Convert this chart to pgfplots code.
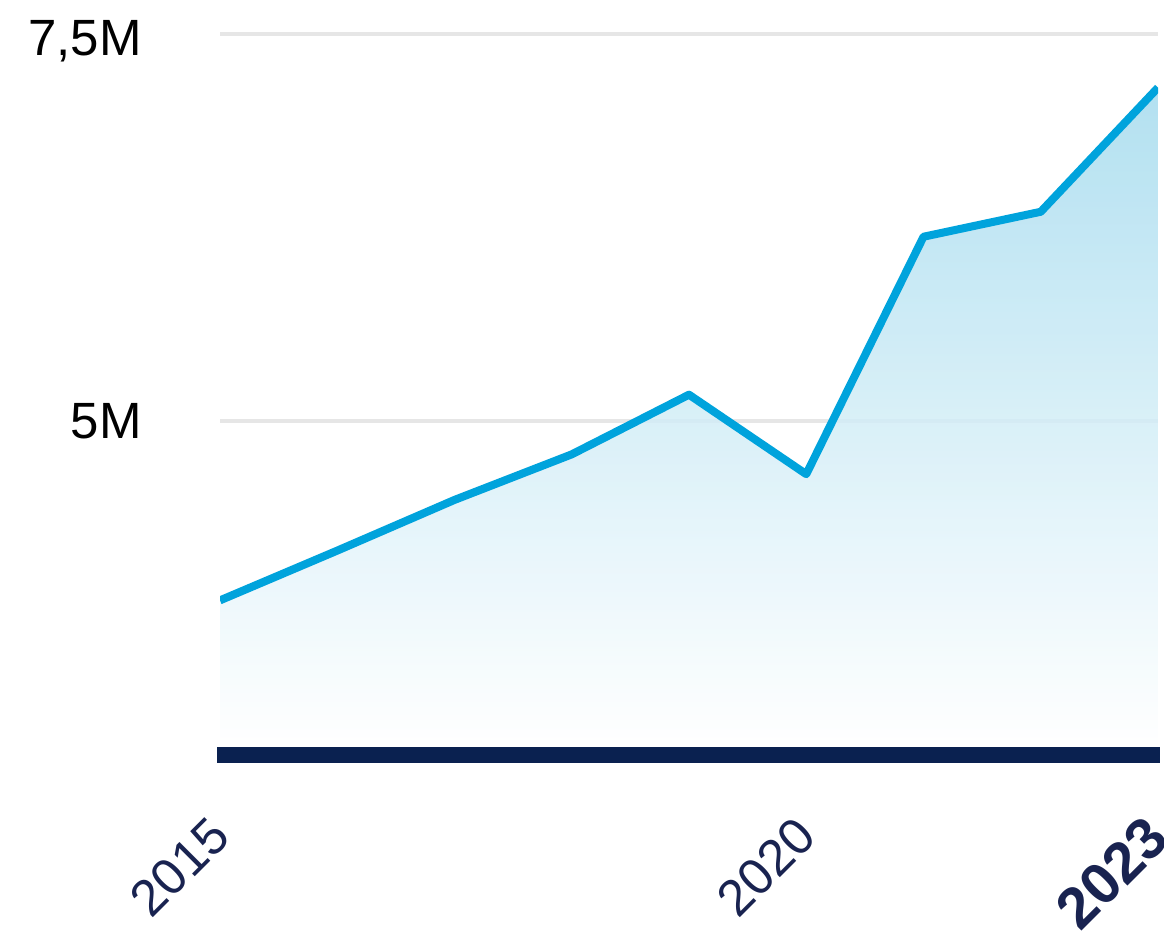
\documentclass[border=0pt]{standalone}
\usepackage{fontspec}
\setmainfont{Liberation Sans}
\usepackage{pgfplots}
\usepackage{pgfplotstable}
\pgfplotsset{compat=1.18}

\definecolor{linecol}{RGB}{0,163,220}
\definecolor{fillcol}{RGB}{165,219,238}
\definecolor{gridcol}{RGB}{230,230,230}
\definecolor{navy}{RGB}{10,33,80}
\definecolor{labcol}{RGB}{25,35,80}

% yearly values
\pgfplotstableread{
year value
2015 3.846e6
2016 4.167e6
2017 4.494e6
2018 4.788e6
2019 5.173e6
2020 4.660e6
2021 6.192e6
2022 6.353e6
2023 7.154e6
}\data

\begin{document}
\begin{tikzpicture}
\begin{axis}[
  name=ax,
  scale only axis,
  width=469pt, height=356.5pt,
  xmin=2015, xmax=2023,
  ymin=2.9e6, ymax=7.5e6,
  xtick={2015,2020,2023},
  xticklabels={2015,2020,{\fontsize{29}{32}\selectfont\bfseries 2023}},
  ytick={5e6,7.5e6},
  yticklabels={5M,{\raisebox{-3.5pt}[\height][\depth]{7,5M}}},
  scaled y ticks=false,
  axis line style={draw=none},
  major tick length=0pt,
  ymajorgrids,
  grid style={gridcol, line width=2pt},
  tick label style={font=\fontsize{25.5}{30}\selectfont, inner sep=0pt},
  xticklabel style={rotate=45, anchor=east, text=labcol},
  yticklabel style={anchor=east, text=black},
  xticklabel shift=40pt,
  yticklabel shift=39pt,
]
\addplot[draw=none, top color=fillcol, bottom color=white, fill opacity=0.85]
  table[x=year, y=value] {\data} -- (rel axis cs:1,0) -- (rel axis cs:0,0) -- cycle;
\addplot[linecol, line width=4pt, line join=round] table[x=year, y=value] {\data};
\end{axis}
\draw[navy, line width=8pt] ([xshift=-1.5pt, yshift=-4pt]ax.south west) -- ([xshift=1pt, yshift=-4pt]ax.south east);
\pgfresetboundingbox
\path ([xshift=-110pt, yshift=-96pt]ax.south west) rectangle ([xshift=3pt, yshift=17pt]ax.north east);
\end{tikzpicture}
\end{document}
